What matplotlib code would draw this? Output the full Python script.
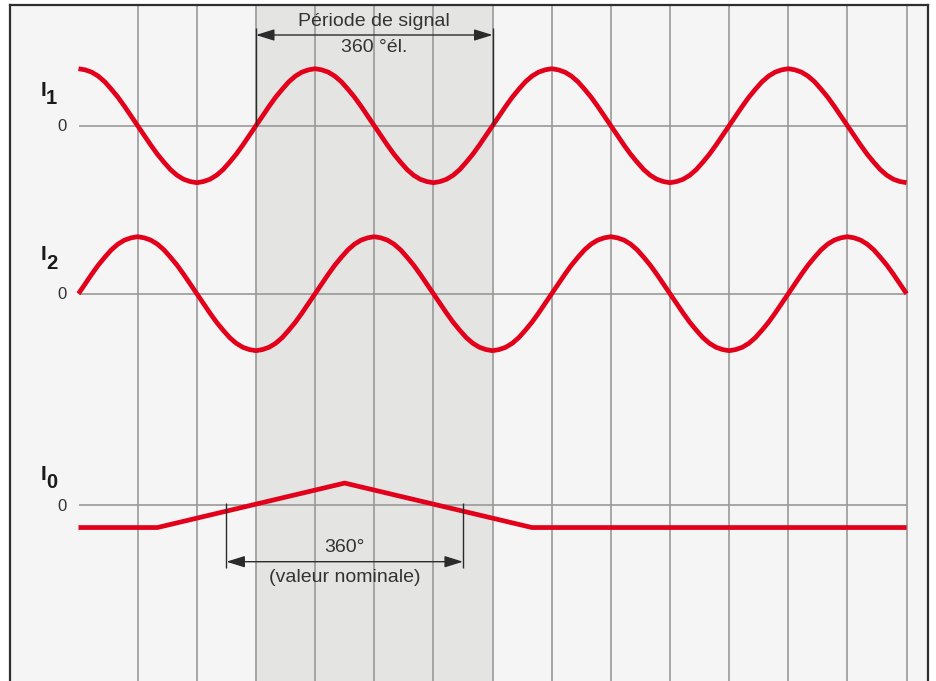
"""
Signaux incrementaux I1, I2 et signal de reference I0
"""

import numpy as np
import matplotlib.pyplot as plt

plt.rcParams['font.family'] = ['Liberation Sans', 'DejaVu Sans']

# one signal period (0..350 deg, step 10 deg), amplitude units
step = 10
i1_period = [1.00, 0.98, 0.94, 0.87, 0.77, 0.64, 0.50, 0.34, 0.17,
             0.00, -0.17, -0.34, -0.50, -0.64, -0.77, -0.87, -0.94, -0.98,
             -1.00, -0.98, -0.94, -0.87, -0.77, -0.64, -0.50, -0.34, -0.17,
             0.00, 0.17, 0.34, 0.50, 0.64, 0.77, 0.87, 0.94, 0.98]
i2_period = [0.00, 0.17, 0.34, 0.50, 0.64, 0.77, 0.87, 0.94, 0.98,
             1.00, 0.98, 0.94, 0.87, 0.77, 0.64, 0.50, 0.34, 0.17,
             0.00, -0.17, -0.34, -0.50, -0.64, -0.77, -0.87, -0.94, -0.98,
             -1.00, -0.98, -0.94, -0.87, -0.77, -0.64, -0.50, -0.34, -0.17]
x_end = 1260

# reference signal I0 (break points)
i0_deg = [0, 120, 405, 690, 1260]
i0_val = [-0.39, -0.39, 0.39, -0.39, -0.39]

# grid, shaded signal period, dimension marks (degrees)
grid_deg = np.arange(90, 1261, 90)
period_span = [270, 630]
nominal_span = [225, 585]

##################################

n = x_end // step + 1
deg = np.arange(n) * step
i1 = np.tile(i1_period, 4)[:n]
i2 = np.tile(i2_period, 4)[:n]

# layout: pixel -> data helpers
def ypx(p):
    return (681 - p) / 57.0

def xpx(p):
    return (p - 78.5) * 90 / 59.15

base1, base2, base0 = ypx(125.7), ypx(293.7), ypx(505.3)

red = '#e2001a'
grey = '#999999'
ink = '#2b2b2b'

fig = plt.figure(figsize=(9.36, 6.81), dpi=100)
ax = fig.add_axes([10/936, 0, 918/936, 676/681])
ax.set_facecolor('#f5f5f5')
ax.set_xlim(xpx(10), xpx(928))
ax.set_ylim(0, ypx(5))
ax.set_xticks([])
ax.set_yticks([])
ax.spines['bottom'].set_visible(False)
for s in ['left', 'right', 'top']:
    ax.spines[s].set_color('#2e2e2e')
    ax.spines[s].set_linewidth(1.6)

ax.axvspan(period_span[0], period_span[1], color='#e4e4e3', zorder=0, lw=0)
ax.vlines(grid_deg, 0, ypx(5), color=grey, lw=1.2, zorder=1)
ax.hlines([base1, base2, base0], 0, x_end, color=grey, lw=1.2, zorder=1)

ax.plot(deg, base1 + i1, color=red, lw=3.4, zorder=3, solid_capstyle='butt')
ax.plot(deg, base2 + i2, color=red, lw=3.4, zorder=3, solid_capstyle='butt')
ax.plot(i0_deg, base0 + np.array(i0_val), color=red, lw=3.4, zorder=3,
        solid_capstyle='butt', solid_joinstyle='round')

# labels
for base, sub, yi, ys in [(base1, '1', 90.7, 99), (base2, '2', 255, 263.7), (base0, '0', 475, 483)]:
    ax.text(xpx(43), ypx(yi), 'I', fontsize=15, fontweight='bold', color='#1a1a1a',
            ha='center', va='center')
    ax.text(xpx(51.5), ypx(ys), sub, fontsize=14.5, fontweight='bold', color='#1a1a1a',
            ha='center', va='center')
    ax.text(xpx(67), base - 0.02, '0', fontsize=12, color='#333333', ha='right', va='center')

arrow = dict(arrowstyle='<|-|>,head_length=0.8,head_width=0.25', mutation_scale=14,
             shrinkA=0, shrinkB=0, lw=1, color=ink)

# signal period dimension
yd = ypx(35)
ax.vlines(period_span, base1, ypx(28), color=ink, lw=1, zorder=4)
ax.annotate('', xy=(period_span[0], yd), xytext=(period_span[1], yd), arrowprops=arrow, zorder=4)
ax.text(np.mean(period_span), ypx(22), 'Période de signal', fontsize=14, color='#333333',
        ha='center', va='center')
ax.text(np.mean(period_span), ypx(48), '360 °él.', fontsize=14, color='#333333',
        ha='center', va='center')

# nominal value dimension
yd = ypx(561.7)
ax.vlines(nominal_span, ypx(568.3), ypx(502.7), color=ink, lw=1, zorder=4)
ax.annotate('', xy=(nominal_span[0], yd), xytext=(nominal_span[1], yd), arrowprops=arrow, zorder=4)
ax.text(np.mean(nominal_span), ypx(548), '360°', fontsize=14, color='#333333',
        ha='center', va='center')
ax.text(np.mean(nominal_span), ypx(578), '(valeur nominale)', fontsize=14, color='#333333',
        ha='center', va='center')

fig.savefig('out.png', dpi=100)
